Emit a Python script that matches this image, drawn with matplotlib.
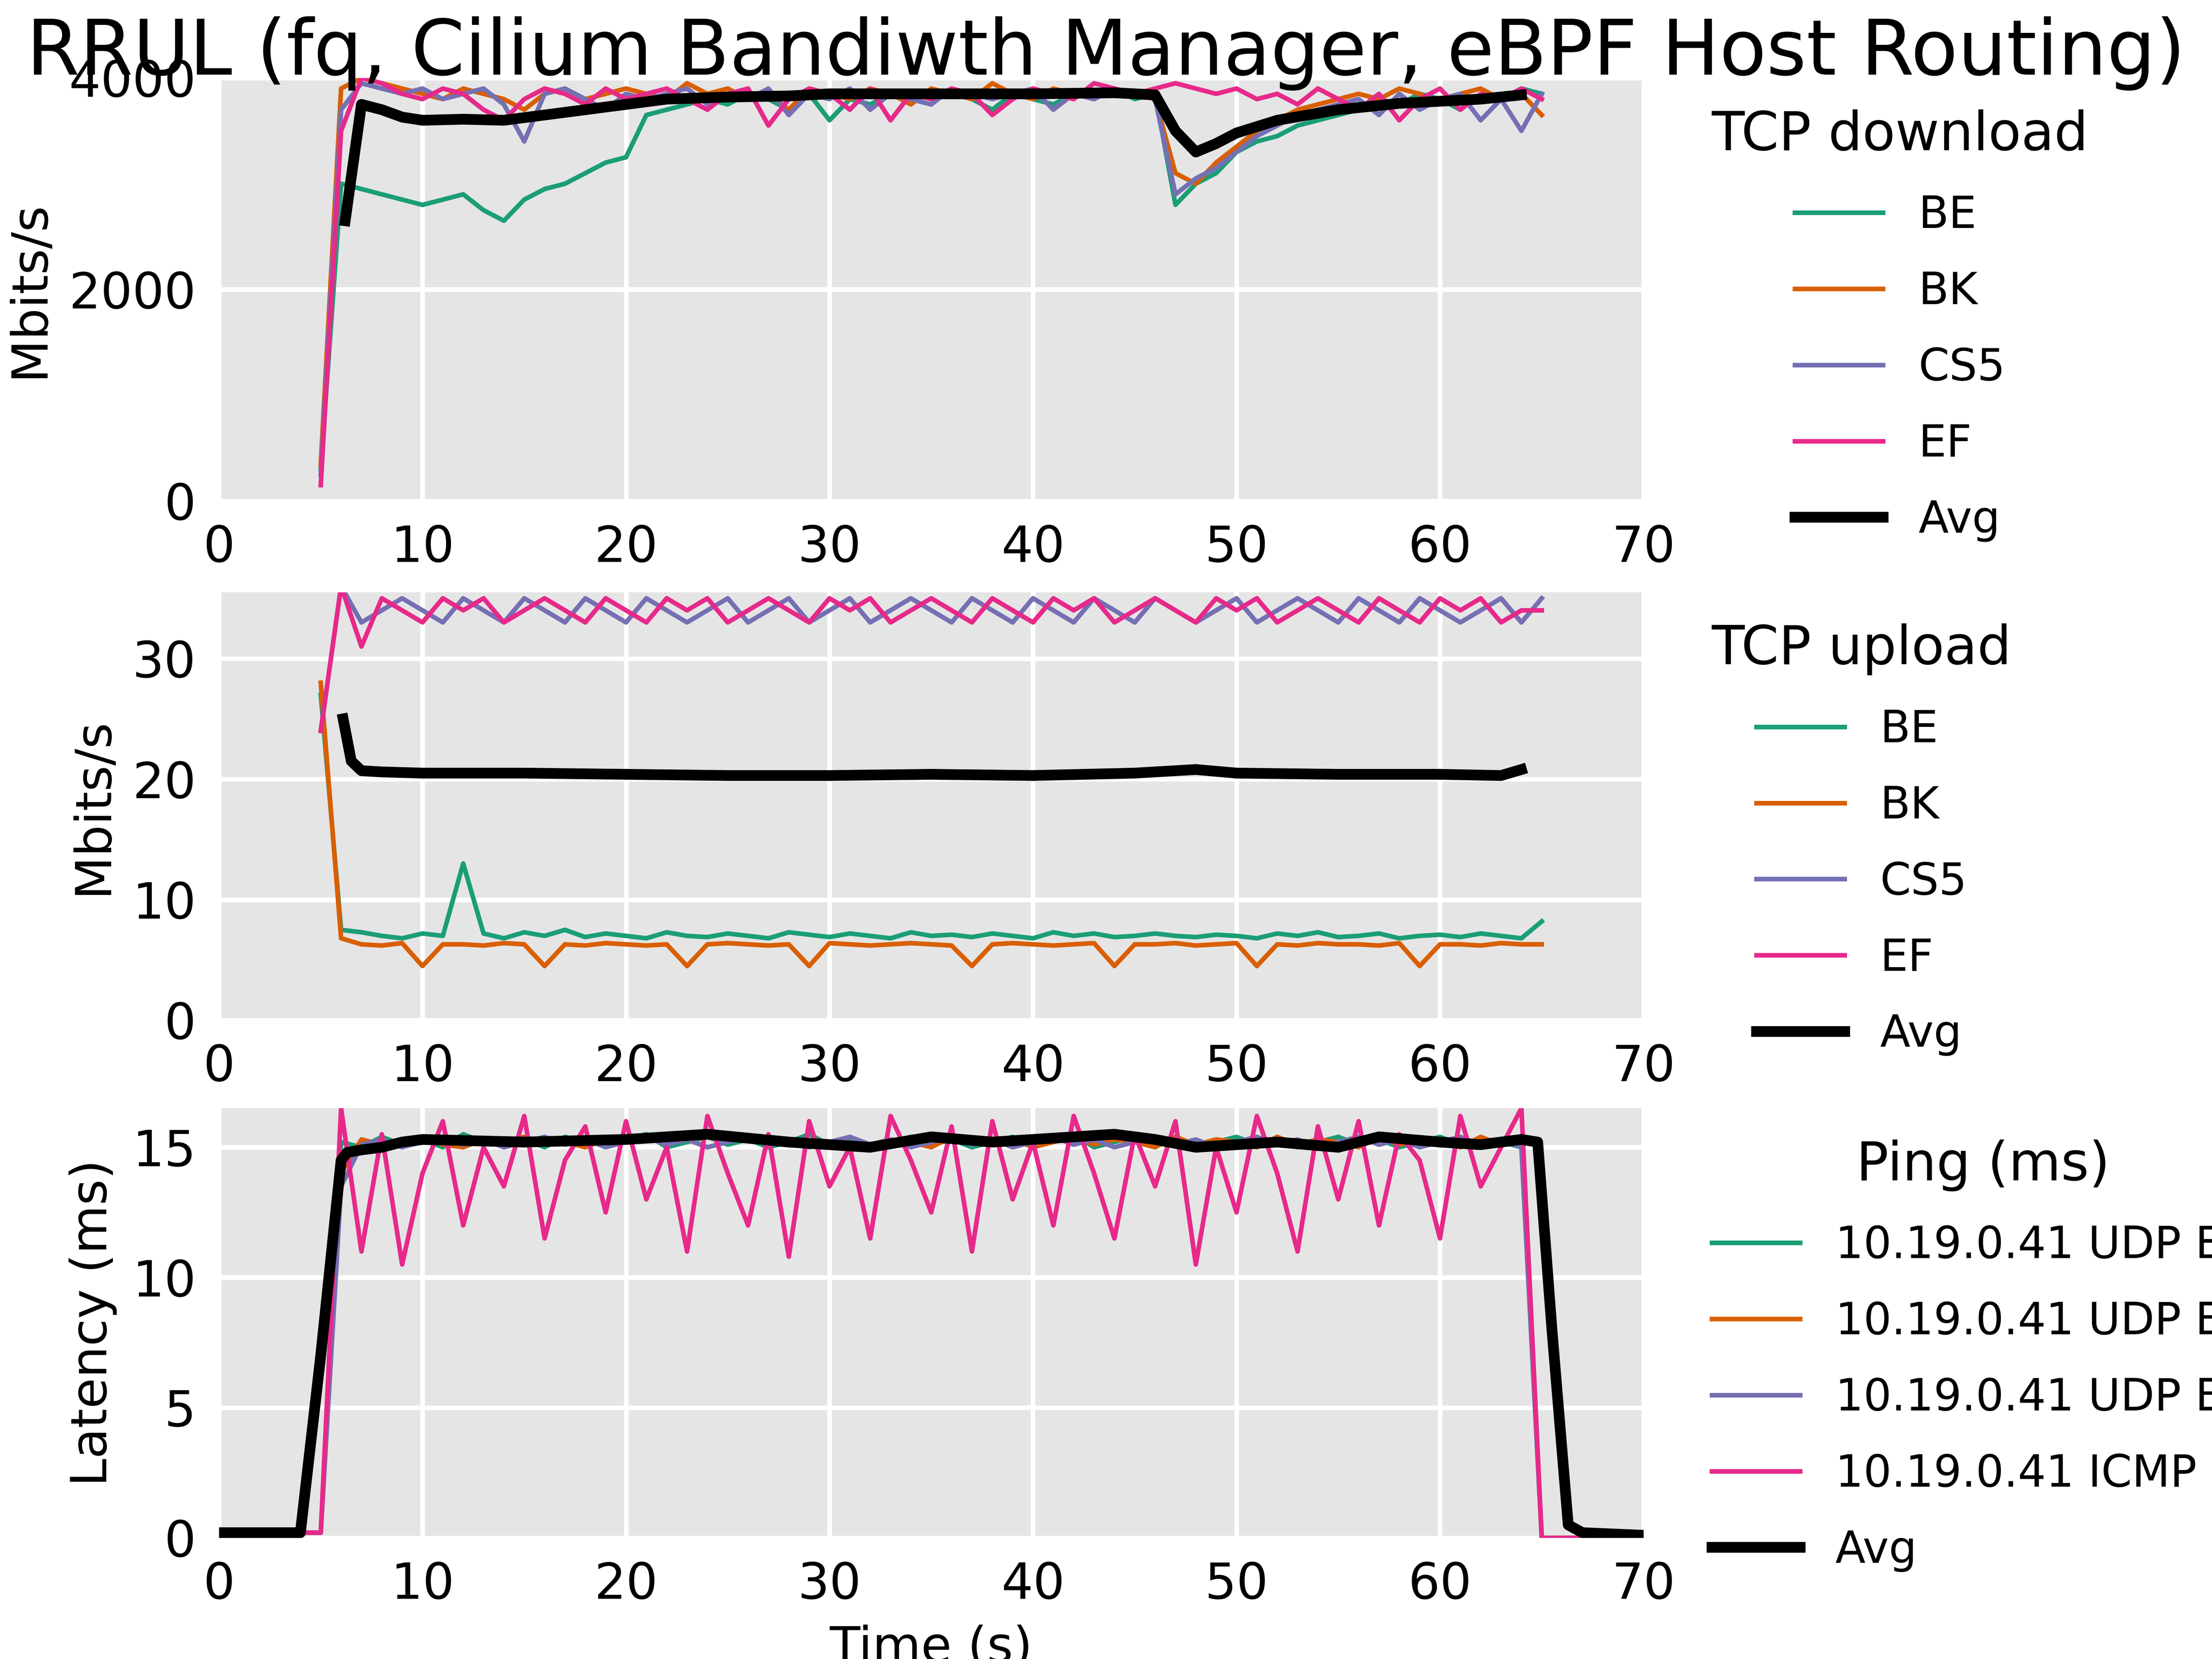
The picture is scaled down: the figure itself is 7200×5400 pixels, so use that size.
import matplotlib
matplotlib.use("Agg")
import matplotlib.pyplot as plt

# colours used by flent (Dark2)
colours = ["#1b9e77", "#d95f02", "#7570b3", "#e7298a"]

# ---- TCP download (Mbits/s), one sample per second from 5 s to 65 s
dl_t = list(range(5, 66))
dl_be = [300, 3000, 2950, 2900, 2850, 2800, 2850, 2900, 2750, 2650, 2850, 2950, 3000, 3100, 3200, 3250,
         3650, 3700, 3750, 3800, 3750, 3850, 3800, 3700, 3850, 3600, 3800, 3750, 3850, 3800,
         3750, 3900, 3800, 3700, 3850, 3800, 3750, 3850, 3800, 3900, 3800, 3850, 2800, 3000,
         3100, 3300, 3400, 3450, 3550, 3600, 3650, 3700, 3800, 3750, 3850, 3800, 3700, 3850, 3800, 3900, 3850]
dl_bk = [350, 3900, 4000, 3950, 3900, 3850, 3800, 3900, 3850, 3800, 3700, 3850, 3900, 3800, 3850, 3900,
         3850, 3800, 3950, 3850, 3900, 3800, 3850, 3700, 3900, 3850, 3800, 3900, 3850, 3750,
         3900, 3850, 3800, 3950, 3850, 3800, 3900, 3850, 3800, 3900, 3850, 3800, 3100, 3000,
         3200, 3350, 3500, 3600, 3700, 3750, 3800, 3850, 3800, 3900, 3850, 3750, 3850, 3900, 3800, 3850, 3650]
dl_cs5 = [250, 3700, 3950, 3900, 3850, 3900, 3800, 3850, 3900, 3750, 3400, 3850, 3900, 3800, 3700, 3850,
          3800, 3850, 3900, 3750, 3850, 3800, 3900, 3650, 3850, 3800, 3900, 3700, 3850, 3800,
          3750, 3900, 3850, 3800, 3850, 3900, 3700, 3850, 3800, 3900, 3850, 3800, 2900, 3050,
          3150, 3300, 3450, 3550, 3650, 3700, 3750, 3800, 3650, 3850, 3700, 3800, 3850, 3600, 3800, 3500, 3850]
dl_ef = [150, 3500, 4000, 3950, 3850, 3800, 3900, 3850, 3700, 3600, 3800, 3900, 3850, 3750, 3900, 3800,
         3850, 3900, 3800, 3700, 3850, 3900, 3550, 3800, 3900, 3850, 3700, 3900, 3600, 3850,
         3800, 3900, 3850, 3650, 3800, 3900, 3850, 3800, 3950, 3900, 3850, 3900, 3950, 3900,
         3850, 3900, 3800, 3850, 3750, 3900, 3800, 3700, 3850, 3600, 3800, 3900, 3700, 3850, 3800, 3900, 3800]
dl_avg_t = [6.2, 7, 8, 9, 10, 12, 14, 16, 18, 20, 22, 25, 28, 30, 35, 40, 44, 46, 47, 48, 49, 50, 52, 55, 58, 60, 62, 64]
dl_avg = [2650, 3750, 3700, 3630, 3600, 3610, 3600, 3650, 3700, 3750, 3800, 3820, 3830, 3850, 3850, 3850,
          3860, 3840, 3500, 3300, 3380, 3480, 3600, 3700, 3760, 3780, 3800, 3840]

# ---- TCP upload (Mbits/s)
ul_t = list(range(5, 66))
ul_be = [27, 7.5, 7.3, 7.0, 6.8, 7.2, 7.0, 13.0, 7.2, 6.8, 7.3, 7.0, 7.5, 6.9, 7.2, 7.0,
         6.8, 7.3, 7.0, 6.9, 7.2, 7.0, 6.8, 7.3, 7.1, 6.9, 7.2, 7.0, 6.8, 7.3,
         7.0, 7.1, 6.9, 7.2, 7.0, 6.8, 7.3, 7.0, 7.2, 6.9, 7.0, 7.2, 7.0, 6.9,
         7.1, 7.0, 6.8, 7.2, 7.0, 7.3, 6.9, 7.0, 7.2, 6.8, 7.0, 7.1, 6.9, 7.2, 7.0, 6.8, 8.2]
ul_bk = [28, 6.8, 6.3, 6.2, 6.4, 4.5, 6.3, 6.3, 6.2, 6.4, 6.3, 4.5, 6.3, 6.2, 6.4, 6.3,
         6.2, 6.3, 4.5, 6.3, 6.4, 6.3, 6.2, 6.3, 4.5, 6.4, 6.3, 6.2, 6.3, 6.4,
         6.3, 6.2, 4.5, 6.3, 6.4, 6.3, 6.2, 6.3, 6.4, 4.5, 6.3, 6.3, 6.4, 6.2,
         6.3, 6.4, 4.5, 6.3, 6.2, 6.4, 6.3, 6.3, 6.2, 6.4, 4.5, 6.3, 6.3, 6.2, 6.4, 6.3, 6.3]
ul_cs5 = [24, 36, 33, 34, 35, 34, 33, 35, 34, 33, 35, 34, 33, 35, 34, 33, 35, 34, 33, 34,
          35, 33, 34, 35, 33, 34, 35, 33, 34, 35, 34, 33, 35, 34, 33, 35, 34, 33, 35, 34,
          33, 35, 34, 33, 34, 35, 33, 34, 35, 34, 33, 35, 34, 33, 35, 34, 33, 34, 35, 33, 35]
ul_ef = [24, 36, 31, 35, 34, 33, 35, 34, 35, 33, 34, 35, 34, 33, 35, 34, 33, 35, 34, 35,
         33, 34, 35, 34, 33, 35, 34, 35, 33, 34, 35, 34, 33, 35, 34, 33, 35, 34, 35, 33,
         34, 35, 34, 33, 35, 34, 35, 33, 34, 35, 34, 33, 35, 34, 33, 35, 34, 35, 33, 34, 34]
ul_avg_t = [6.1, 6.5, 7, 8, 10, 15, 20, 25, 30, 35, 40, 45, 48, 50, 55, 60, 63, 64]
ul_avg = [25, 21.5, 20.7, 20.6, 20.5, 20.5, 20.4, 20.3, 20.3, 20.4, 20.3, 20.5, 20.8, 20.5, 20.4, 20.4, 20.3, 20.8]

# ---- Ping latency (ms), one sample per second from 0 s to 70 s
p_t = list(range(0, 71))
p_udp_ef = [0.2] * 5 + [0.2, 15.2, 15.0, 15.4, 15.1, 15.3, 15.0, 15.5, 15.2, 15.1, 15.3, 15.0, 15.4, 15.2, 15.1,
                        15.3, 15.5, 15.0, 15.2, 15.4, 15.1, 15.3, 15.0, 15.2, 15.5, 15.1, 15.3, 15.0, 15.2, 15.4,
                        15.1, 15.3, 15.0, 15.2, 15.4, 15.1, 15.3, 15.5, 15.0, 15.2, 15.4, 15.1, 15.3, 15.0, 15.2,
                        15.4, 15.1, 15.3, 15.0, 15.2, 15.4, 15.1, 15.3, 15.0, 15.2, 15.4, 15.1, 15.3, 15.2, 15.0,
                        0.0] + [0.0] * 5
p_udp_bk = [0.2] * 5 + [0.2, 14.0, 15.3, 15.1, 15.2, 15.4, 15.1, 15.0, 15.3, 15.2, 15.4, 15.1, 15.2, 15.0, 15.3,
                        15.2, 15.4, 15.1, 15.3, 15.0, 15.2, 15.4, 15.1, 15.3, 15.2, 15.0, 15.4, 15.1, 15.3, 15.2,
                        15.0, 15.4, 15.2, 15.1, 15.3, 15.0, 15.2, 15.4, 15.1, 15.3, 15.2, 15.0, 15.4, 15.1, 15.3,
                        15.2, 15.0, 15.4, 15.1, 15.3, 15.2, 15.0, 15.4, 15.1, 15.3, 15.2, 15.0, 15.4, 15.1, 15.3,
                        0.0] + [0.0] * 5
p_udp_be = [0.2] * 5 + [0.2, 13.5, 15.1, 15.3, 15.0, 15.2, 15.4, 15.1, 15.3, 15.0, 15.2, 15.4, 15.1, 15.3, 15.0,
                        15.2, 15.4, 15.1, 15.3, 15.0, 15.2, 15.4, 15.1, 15.3, 15.0, 15.2, 15.4, 15.1, 15.3, 15.0,
                        15.2, 15.4, 15.1, 15.3, 15.0, 15.2, 15.4, 15.1, 15.3, 15.0, 15.2, 15.4, 15.1, 15.3, 15.0,
                        15.2, 15.4, 15.1, 15.3, 15.0, 15.2, 15.4, 15.1, 15.3, 15.0, 15.2, 15.4, 15.1, 15.3, 15.0,
                        0.0] + [0.0] * 5
p_icmp = [0.2] * 5 + [0.2, 16.5, 11.0, 15.5, 10.5, 14.0, 16.0, 12.0, 15.0, 13.5, 16.2, 11.5, 14.5, 15.8, 12.5,
                      16.0, 13.0, 15.0, 11.0, 16.2, 14.0, 12.0, 15.5, 10.8, 16.0, 13.5, 15.0, 11.5, 16.2, 14.5,
                      12.5, 15.8, 11.0, 16.0, 13.0, 15.2, 12.0, 16.2, 14.0, 11.5, 15.5, 13.5, 16.0, 10.5, 15.0,
                      12.5, 16.2, 14.0, 11.0, 15.8, 13.0, 16.0, 12.0, 15.5, 14.5, 11.5, 16.2, 13.5, 15.0, 16.5,
                      0.0] + [0.0] * 5
p_avg_t = [0, 2, 4, 5, 6, 6.3, 7, 8, 9, 10, 15, 20, 24, 28, 30, 32, 35, 38, 40, 44, 46, 48, 50, 52, 55, 57, 60, 62, 64, 64.8, 65.5, 66.3, 67, 70]
p_avg = [0.2, 0.2, 0.2, 7.0, 14.5, 14.8, 14.9, 15.0, 15.2, 15.3, 15.2, 15.3, 15.5, 15.2, 15.1, 15.0, 15.4, 15.2,
         15.3, 15.5, 15.3, 15.0, 15.1, 15.2, 15.0, 15.4, 15.2, 15.1, 15.3, 15.2, 8.0, 0.5, 0.2, 0.1]

plt.rcParams["font.family"] = "DejaVu Sans"
fig = plt.figure(figsize=(8, 6), dpi=900)
ax1 = fig.add_axes([0.099, 0.698, 0.644, 0.255])
ax2 = fig.add_axes([0.099, 0.385, 0.644, 0.258])
ax3 = fig.add_axes([0.099, 0.073, 0.644, 0.259])

names = ["BE", "BK", "CS5", "EF"]
for ax, t, series, at, av, ylim, yt, lab, title in [
        (ax1, dl_t, [dl_be, dl_bk, dl_cs5, dl_ef], dl_avg_t, dl_avg, 4000, [0, 2000, 4000], "Mbits/s", "TCP download"),
        (ax2, ul_t, [ul_be, ul_bk, ul_cs5, ul_ef], ul_avg_t, ul_avg, 35.5, [0, 10, 20, 30], "Mbits/s", "TCP upload"),
        (ax3, p_t, [p_udp_ef, p_udp_bk, p_udp_be, p_icmp], p_avg_t, p_avg, 16.5, [0, 5, 10, 15], "Latency (ms)", "Ping (ms)")]:
    ax.set_facecolor("#e5e5e5")
    labels = names if ax is not ax3 else ["10.19.0.41 UDP EF", "10.19.0.41 UDP BK", "10.19.0.41 UDP BE", "10.19.0.41 ICMP"]
    for s, c, l in zip(series, colours, labels):
        ax.plot(t, s, color=c, lw=1.2, label=l)
    ax.plot(at, av, color="black", lw=2.8, label="Avg")
    ax.set_xlim(0, 70)
    ax.set_ylim(0, ylim)
    ax.set_yticks(yt)
    ax.set_xticks(range(0, 71, 10))
    ax.grid(True, color="white", lw=1.2)
    ax.set_axisbelow(True)
    for sp in ax.spines.values():
        sp.set_visible(False)
    ax.tick_params(labelsize=13, length=0, pad=6)
    ax.set_ylabel(lab, fontsize=13)
    ax.legend(loc="upper left", bbox_to_anchor=(1.02, 1.02), frameon=False, fontsize=11.5,
              title=title, title_fontsize=14, labelspacing=0.75)

ax3.set_xlabel("Time (s)", fontsize=13)
fig.text(0.5, 0.955, "RRUL (fq, Cilium Bandiwth Manager, eBPF Host Routing)", ha="center", fontsize=20)
fig.savefig("out.png", dpi=900)
